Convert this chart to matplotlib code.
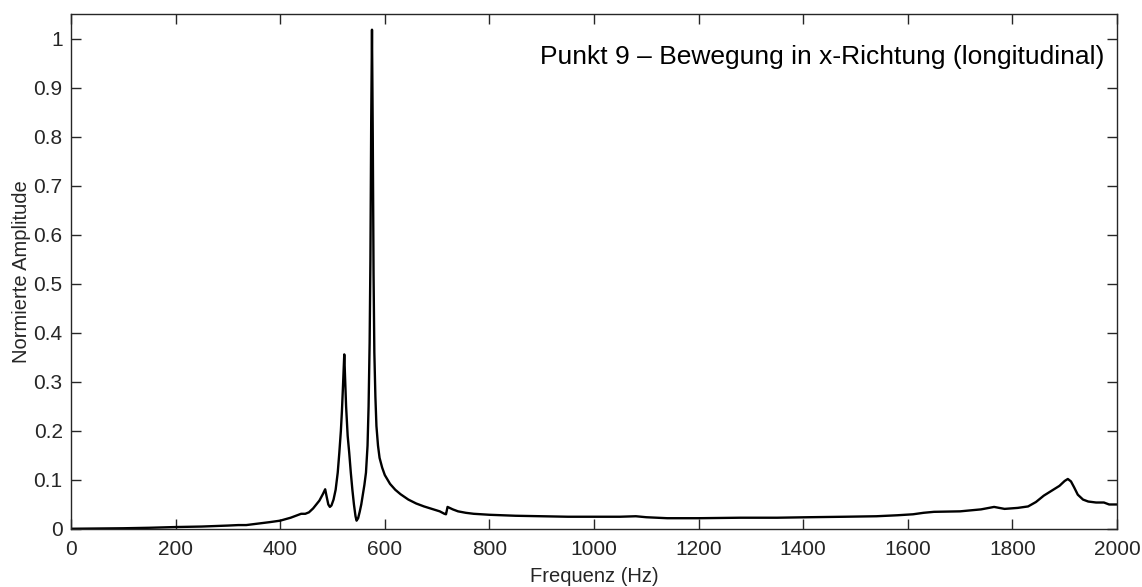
import matplotlib
matplotlib.use("Agg")
import matplotlib.pyplot as plt

plt.rcParams['font.family'] = ['Liberation Sans', 'DejaVu Sans']

freq_hz = [0, 50, 100, 150, 200, 250, 300, 320, 335, 350, 380, 400, 420, 435, 440, 448, 455,
           463, 475, 482, 486, 489, 492, 495, 498, 502, 506, 510, 513, 516, 518, 520, 521.5,
           522.5, 524, 526, 529, 532, 535, 538, 541, 544, 546, 549, 552, 555, 558, 561, 564,
           567, 569, 571, 572.5, 574, 575.5, 577, 578.5, 580, 582, 584, 587, 590, 595, 600,
           610, 620, 630, 645, 660, 675, 690, 705, 714, 717, 720, 724, 730, 740, 755, 770,
           800, 850, 900, 950, 1000, 1050, 1080, 1100, 1140, 1200, 1280, 1350, 1410, 1480,
           1540, 1580, 1610, 1630, 1650, 1700, 1740, 1765, 1785, 1810, 1830, 1845, 1860,
           1875, 1890, 1900, 1906, 1912, 1918, 1925, 1935, 1945, 1960, 1975, 1985, 2000]

amplitude = [0.0005, 0.001, 0.0015, 0.0025, 0.004, 0.005, 0.007, 0.008, 0.008, 0.010, 0.014,
             0.017, 0.023, 0.029, 0.031, 0.031, 0.034,
             0.042, 0.058, 0.072, 0.081, 0.065, 0.050, 0.045, 0.048, 0.060, 0.080, 0.115,
             0.155, 0.200, 0.240, 0.290, 0.330,
             0.356, 0.310, 0.250, 0.190, 0.155, 0.115, 0.080, 0.050, 0.026, 0.017, 0.022,
             0.035, 0.050, 0.070, 0.090, 0.115,
             0.170, 0.250, 0.380, 0.550, 0.830, 1.018, 0.800, 0.520, 0.360, 0.270, 0.210,
             0.170, 0.145, 0.125, 0.110,
             0.092, 0.080, 0.071, 0.060, 0.052, 0.046, 0.041, 0.036, 0.031, 0.030, 0.045,
             0.043, 0.040, 0.036, 0.033, 0.031,
             0.029, 0.027, 0.026, 0.025, 0.025, 0.025, 0.026, 0.024, 0.022, 0.022, 0.023,
             0.023, 0.024, 0.025,
             0.026, 0.028, 0.030, 0.033, 0.035, 0.036, 0.040, 0.045, 0.041, 0.043, 0.046,
             0.055, 0.068,
             0.078, 0.088, 0.098, 0.102, 0.097, 0.085, 0.070, 0.060, 0.056, 0.054, 0.054,
             0.050, 0.050]

x_ticks = [0, 200, 400, 600, 800, 1000, 1200, 1400, 1600, 1800, 2000]
y_ticks = [0, 0.1, 0.2, 0.3, 0.4, 0.5, 0.6, 0.7, 0.8, 0.9, 1]
y_tick_labels = ['0', '0.1', '0.2', '0.3', '0.4', '0.5', '0.6', '0.7', '0.8', '0.9', '1']

title_text = 'Punkt 9 \u2013 Bewegung in x-Richtung (longitudinal)'

fig = plt.figure(figsize=(11.42, 5.87), dpi=100)
ax = fig.add_axes([71 / 1142, 1 - 529 / 587, (1117 - 71) / 1142, (529 - 14) / 587])

ax.plot(freq_hz, amplitude, color='black', linewidth=1.7)

ax.set_xlim(0, 2000)
ax.set_ylim(0, 1.05)
ax.set_xticks(x_ticks)
ax.set_yticks(y_ticks)
ax.set_yticklabels(y_tick_labels)

for s in ax.spines.values():
    s.set_color('#262626')
    s.set_linewidth(1.0)

ax.tick_params(direction='in', top=True, right=True, length=7, width=1.0,
               colors='#262626', labelsize=15)
ax.tick_params(axis='x', pad=8)
ax.tick_params(axis='y', pad=6)
ax.tick_params(axis='both', labelcolor='#262626')

ax.set_xlabel('Frequenz (Hz)', fontsize=14.5, color='#262626', labelpad=6)
ax.set_ylabel('Normierte Amplitude', fontsize=14.5, color='#262626', labelpad=2)

ax.text(0.988, 0.916, title_text, transform=ax.transAxes, ha='right', va='center',
        fontsize=19, color='black')

fig.savefig('out.png', dpi=100)
